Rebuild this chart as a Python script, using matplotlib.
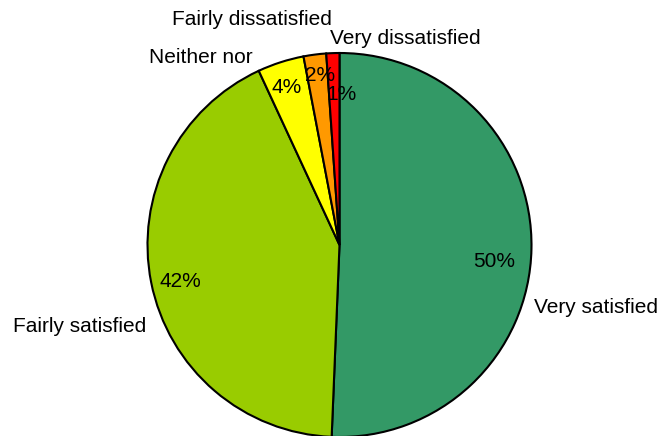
import matplotlib
matplotlib.use("Agg")
import matplotlib.pyplot as plt

categories = ["Very satisfied", "Fairly satisfied", "Neither nor", "Fairly dissatisfied", "Very dissatisfied"]
values = [50.6, 42.4, 3.9, 1.9, 1.1]
pct_labels = ["50%", "42%", "4%", "2%", "1%"]
colors = ["#339966", "#99CC00", "#FFFF00", "#FF9900", "#FF0000"]

plt.rcParams['font.family'] = ['Liberation Sans', 'DejaVu Sans']

W, H = 663, 436
cx, cy, R = 339.5, 245.0, 192.0
fig = plt.figure(figsize=(W / 100, H / 100), dpi=100)
ax = fig.add_axes([0, 0, 1, 1])

wedges, _ = ax.pie(values, colors=colors, startangle=90, counterclock=False,
                   wedgeprops=dict(edgecolor="black", linewidth=1.5))

# label layout (data coords, radius = 1)
cat_pos = [(1.013, -0.354, "left"), (-1.008, -0.453, "right"), (-0.451, 0.948, "right"),
           (-0.454, 1.146, "center"), (0.341, 1.047, "center")]
pct_pos = [(0.807, -0.115), (-0.828, -0.219), (-0.273, 0.792), (-0.099, 0.854), (0.013, 0.755)]

for name, (x, y, ha) in zip(categories, cat_pos):
    ax.text(x, y, name, ha=ha, va="baseline", fontsize=15, color="black")
for p, (x, y) in zip(pct_labels, pct_pos):
    ax.text(x, y, p, ha="center", va="baseline", fontsize=15, color="black")

ax.set_xlim(-cx / R, (W - cx) / R)
ax.set_ylim(-(H - cy) / R, cy / R)
ax.set_aspect("auto")
ax.axis("off")

fig.savefig("out.png", dpi=100)
